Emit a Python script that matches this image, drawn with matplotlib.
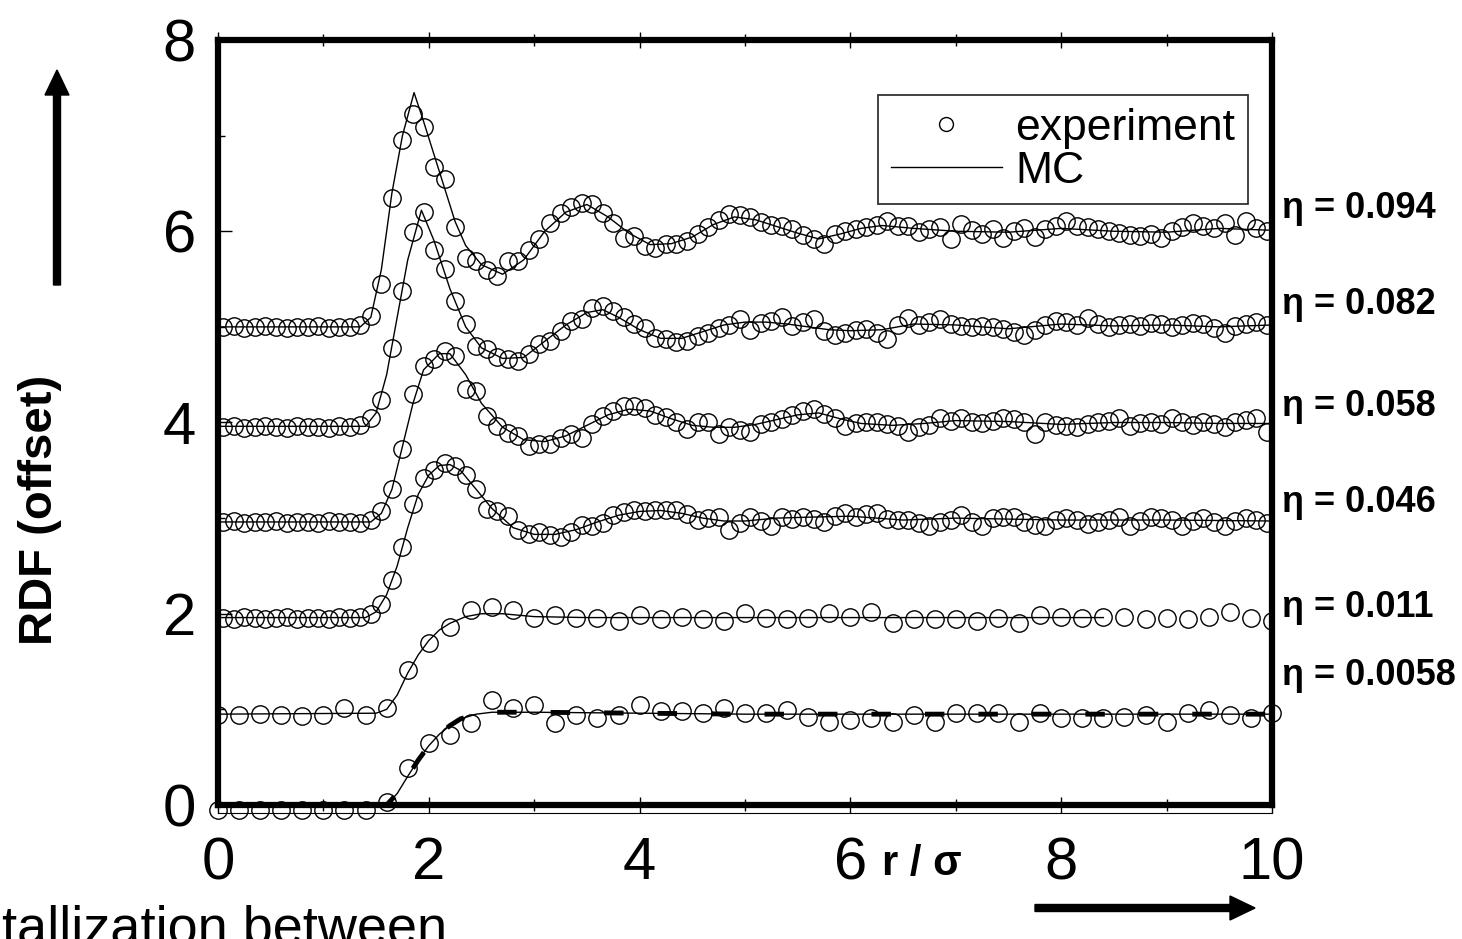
import numpy as np
import matplotlib
matplotlib.use("Agg")
import matplotlib.pyplot as plt
from matplotlib.patches import FancyArrow
from matplotlib.ticker import MultipleLocator
import matplotlib.transforms as mtransforms

plt.rcParams['font.family'] = ['Liberation Sans', 'DejaVu Sans']

# experiment: dense sampling (step 0.1) for the four upper curves
r_dense = np.round(np.arange(0.05, 10.0, 0.1), 2)
# experiment: sparse sampling (step 0.2) for the two lowest curves
r_sparse = np.round(np.arange(0.0, 10.01, 0.2), 2)

exp_094 = [5.00, 5.01, 4.99, 5.00, 5.01, 5.00, 4.99, 5.00, 5.00, 5.01, 4.99, 5.00, 5.00, 5.02,
           5.11, 5.45, 6.35, 6.95, 7.23, 7.09, 6.67, 6.55, 6.04, 5.72,
           5.69, 5.59, 5.53, 5.69, 5.69, 5.80, 5.92, 6.09, 6.19, 6.25,
           6.30, 6.29, 6.19, 6.09, 5.93, 5.95, 5.85, 5.82, 5.87, 5.87,
           5.90, 5.97, 6.04, 6.12, 6.18, 6.17, 6.15, 6.10, 6.07, 6.05,
           6.02, 5.96, 5.92, 5.87, 5.97, 6.00, 6.02, 6.04, 6.07, 6.11,
           6.05, 6.06, 5.99, 6.02, 6.04, 5.92, 6.08, 6.01, 5.97, 6.02,
           5.93, 6.00, 6.03, 5.94, 6.02, 6.06, 6.11, 6.06, 6.04, 6.02,
           6.00, 5.98, 5.96, 5.95, 5.97, 5.93, 6.00, 6.04, 6.09, 6.05,
           6.03, 6.09, 5.96, 6.11, 6.03, 6.00]
exp_082 = [3.95, 3.96, 3.94, 3.95, 3.96, 3.95, 3.94, 3.96, 3.95, 3.95, 3.94, 3.96, 3.95, 3.97,
           4.05, 4.24, 4.78, 5.38, 5.99, 6.20, 5.80, 5.61, 5.27, 5.03,
           4.80, 4.77, 4.68, 4.66, 4.64, 4.72, 4.82, 4.85, 4.96, 5.06,
           5.08, 5.20, 5.22, 5.17, 5.10, 5.03, 4.99, 4.88, 4.87, 4.84,
           4.85, 4.90, 4.94, 4.99, 5.02, 5.08, 4.97, 5.04, 5.06, 5.10,
           5.01, 5.05, 5.08, 4.96, 4.91, 4.94, 4.97, 4.98, 4.94, 4.87,
           5.02, 5.09, 5.02, 5.05, 5.08, 5.03, 5.01, 5.00, 5.01, 5.00,
           4.98, 4.95, 4.91, 4.97, 5.02, 5.06, 5.05, 5.02, 5.09, 5.03,
           5.00, 5.02, 5.03, 5.01, 5.04, 5.03, 5.00, 5.02, 5.04, 5.03,
           4.99, 4.94, 5.01, 5.03, 5.05, 5.02]
exp_058 = [2.96, 2.97, 2.95, 2.96, 2.96, 2.97, 2.95, 2.96, 2.96, 2.95, 2.97, 2.96, 2.96, 2.95, 2.98,
           3.07, 3.30, 3.72, 4.30, 4.59, 4.66, 4.75, 4.70, 4.35,
           4.33, 4.07, 3.96, 3.89, 3.86, 3.75, 3.78, 3.78, 3.84, 3.88,
           3.84, 3.98, 4.07, 4.12, 4.17, 4.17, 4.15, 4.08, 4.06, 4.00,
           3.93, 4.01, 4.01, 3.88, 3.95, 3.92, 3.90, 3.98, 4.01, 4.04,
           4.08, 4.12, 4.14, 4.09, 4.05, 3.96, 3.99, 4.00, 4.01, 3.98,
           3.96, 3.90, 3.95, 3.97, 4.05, 4.02, 4.05, 4.00, 3.99, 4.02,
           4.05, 4.04, 4.00, 3.88, 4.01, 3.97, 3.96, 3.95, 3.98, 4.00,
           4.02, 4.05, 3.96, 3.99, 4.01, 3.98, 4.05, 4.00, 3.97, 4.00,
           3.98, 3.95, 4.01, 4.03, 4.05, 3.90]
exp_046 = [1.96, 1.95, 1.97, 1.96, 1.95, 1.96, 1.97, 1.95, 1.96, 1.96, 1.95, 1.97, 1.96, 1.97,
           2.00, 2.10, 2.35, 2.70, 3.15, 3.42, 3.50, 3.58, 3.55, 3.45,
           3.30, 3.10, 3.07, 3.02, 2.88, 2.83, 2.86, 2.82, 2.80, 2.86,
           2.93, 2.92, 2.95, 3.03, 3.06, 3.08, 3.07, 3.08, 3.09, 3.08,
           3.04, 2.98, 3.00, 3.01, 2.88, 2.95, 3.01, 2.97, 2.92, 3.01,
           2.99, 3.01, 2.99, 2.96, 3.02, 3.05, 3.01, 3.04, 3.05, 2.99,
           2.98, 2.98, 2.95, 2.92, 2.96, 2.98, 3.03, 2.96, 2.92, 3.00,
           3.01, 3.01, 2.96, 2.93, 2.92, 2.98, 3.00, 2.98, 2.94, 2.96,
           2.98, 3.01, 2.92, 2.97, 3.01, 3.00, 2.98, 2.92, 2.97, 3.00,
           2.96, 2.92, 2.97, 3.00, 2.98, 2.95]
exp_011 = [0.94, 0.94, 0.95, 0.94, 0.93, 0.94, 1.01, 0.94, 1.01, 1.41,
           1.69, 1.86, 2.04, 2.07, 2.04, 1.96, 1.99, 1.96, 1.96, 1.92,
           1.99, 1.94, 1.97, 1.94, 1.92, 2.01, 1.96, 1.94, 1.96, 2.01,
           1.97, 2.02, 1.90, 1.94, 1.94, 1.94, 1.92, 1.96, 1.90, 1.99,
           1.97, 1.96, 1.97, 1.97, 1.94, 1.96, 1.94, 1.97, 2.02, 1.96,
           1.92]
exp_0058 = [-0.05, -0.05, -0.05, -0.05, -0.05, -0.05, -0.05, -0.05, 0.03, 0.39,
            0.65, 0.73, 0.86, 1.10, 1.01, 1.05, 0.86, 0.94, 0.91, 0.94,
            1.05, 0.98, 0.98, 0.96, 1.01, 0.96, 0.96, 0.99, 0.92, 0.87,
            0.89, 0.91, 0.87, 0.94, 0.87, 0.96, 0.96, 0.96, 0.87, 0.96,
            0.91, 0.91, 0.91, 0.92, 0.94, 0.87, 0.96, 0.99, 0.94, 0.91,
            0.96]

# MC curves
mc_r_094 = [0, 1.35, 1.45, 1.55, 1.65, 1.75, 1.86, 1.95, 2.05, 2.15, 2.25, 2.35, 2.5, 2.7, 2.9,
            3.1, 3.3, 3.5, 3.7, 3.9, 4.1, 4.3, 4.5, 4.7, 4.9, 5.1, 5.3, 5.5, 5.7, 5.9,
            6.1, 6.3, 6.6, 7.0, 7.5, 8.0, 8.5, 9.0, 9.5, 10]
mc_094 = [5.0, 5.0, 5.1, 5.6, 6.4, 7.0, 7.45, 7.15, 6.8, 6.45, 6.1, 5.85, 5.65, 5.55, 5.7,
          6.0, 6.2, 6.28, 6.15, 5.98, 5.86, 5.87, 5.94, 6.07, 6.15, 6.12, 6.05, 5.98, 5.92, 5.97,
          6.03, 6.06, 6.03, 6.0, 5.99, 6.03, 6.0, 5.99, 6.03, 6.01]
mc_r_082 = [0, 1.4, 1.5, 1.6, 1.7, 1.8, 1.93, 2.05, 2.2, 2.35, 2.5, 2.7, 2.9, 3.1, 3.3,
            3.5, 3.65, 3.8, 4.0, 4.2, 4.4, 4.6, 4.8, 5.0, 5.2, 5.4, 5.6, 5.8, 6.0, 6.3,
            6.6, 7.0, 7.5, 8.0, 8.5, 9.0, 9.5, 10]
mc_082 = [3.96, 3.96, 4.1, 4.5, 5.1, 5.7, 6.22, 5.9, 5.4, 5.0, 4.78, 4.67, 4.68, 4.85, 5.02,
          5.15, 5.18, 5.1, 4.97, 4.88, 4.88, 4.95, 5.02, 5.05, 5.05, 5.03, 5.0, 4.97, 4.96, 4.97,
          5.03, 5.02, 4.98, 5.03, 5.01, 5.02, 5.0, 5.02]
mc_r_058 = [0, 1.45, 1.55, 1.65, 1.75, 1.85, 1.95, 2.1, 2.2, 2.35, 2.5, 2.7, 2.9, 3.1, 3.3,
            3.5, 3.7, 3.9, 4.1, 4.3, 4.5, 4.7, 4.9, 5.1, 5.3, 5.5, 5.7, 5.9, 6.1, 6.4,
            6.7, 7.0, 7.5, 8.0, 8.5, 9.0, 9.5, 10]
mc_058 = [2.96, 2.96, 3.05, 3.3, 3.75, 4.2, 4.55, 4.72, 4.72, 4.5, 4.2, 3.95, 3.82, 3.8, 3.86,
          3.97, 4.08, 4.14, 4.12, 4.04, 3.97, 3.95, 3.95, 3.98, 4.03, 4.08, 4.1, 4.04, 3.99, 3.97,
          3.99, 4.02, 4.01, 3.98, 4.0, 4.0, 3.99, 3.99]
mc_r_046 = [0, 1.4, 1.5, 1.6, 1.7, 1.8, 1.9, 2.0, 2.1, 2.2, 2.3, 2.45, 2.6, 2.8, 3.0,
            3.2, 3.4, 3.6, 3.8, 4.0, 4.2, 4.4, 4.6, 4.8, 5.0, 5.3, 5.6, 6.0, 6.5, 7.0,
            7.5, 8.0, 9.0, 10]
mc_046 = [1.96, 1.96, 2.02, 2.2, 2.5, 2.9, 3.25, 3.45, 3.55, 3.56, 3.5, 3.3, 3.1, 2.9, 2.83,
          2.83, 2.88, 2.96, 3.03, 3.07, 3.08, 3.05, 3.0, 2.97, 2.97, 3.0, 3.01, 3.02, 2.98, 3.0,
          2.99, 2.98, 2.98, 2.97]
mc_r_011 = [0, 1.5, 1.6, 1.7, 1.8, 1.9, 2.0, 2.1, 2.2, 2.35, 2.5, 2.7, 3.0, 3.5, 4.0,
            5.0, 6.0, 7.0, 8.0, 8.4]
mc_011 = [0.95, 0.96, 1.0, 1.15, 1.38, 1.57, 1.72, 1.83, 1.9, 1.97, 2.0, 2.0, 1.97, 1.96, 1.96,
          1.96, 1.96, 1.96, 1.96, 1.96]
mc_r_0058 = [0, 1.6, 1.7, 1.8, 1.9, 2.0, 2.1, 2.2, 2.3, 2.45, 2.6, 3.0, 4.0, 5.0, 6.0,
             7.0, 8.0, 9.0, 10]
mc_0058 = [0.0, 0.0, 0.12, 0.3, 0.47, 0.62, 0.74, 0.83, 0.9, 0.95, 0.97, 0.97, 0.96, 0.95, 0.95,
           0.95, 0.95, 0.95, 0.95]

eta_labels = ['η = 0.094', 'η = 0.082', 'η = 0.058', 'η = 0.046', 'η = 0.011', 'η = 0.0058']
eta_label_y = [6.24, 5.23, 4.17, 3.16, 2.07, 1.35]

W, H = 1462, 939
fig = plt.figure(figsize=(W / 100, H / 100), dpi=100)
ax = fig.add_axes([218 / W, 1 - 805 / H, (1272 - 218) / W, (805 - 40) / H])

mk = dict(marker='o', ms=12.5, mfc='none', mec='k', mew=1.0, ls='none')
ln = dict(color='k', lw=1.0)

ax.plot(r_dense, exp_094, label='experiment', **mk)
ax.plot(r_dense, exp_082, **mk)
ax.plot(r_dense, exp_058, **mk)
ax.plot(r_dense, exp_046, **mk)
ax.plot(r_sparse, exp_011, **mk)
ax.plot(r_sparse, exp_0058, clip_on=False, **mk)

ax.plot(mc_r_094, mc_094, label='MC', **ln)
ax.plot(mc_r_082, mc_082, **ln)
ax.plot(mc_r_058, mc_058, **ln)
ax.plot(mc_r_046, mc_046, **ln)
ax.plot(mc_r_011, mc_011, **ln)
ax.plot(mc_r_0058, mc_0058, **ln)
ax.plot(mc_r_0058, mc_0058, color='k', lw=3.5, dashes=(4, 7))

ax.set_xlim(0, 10)
ax.set_ylim(0, 8)
ax.xaxis.set_major_locator(MultipleLocator(2))
ax.xaxis.set_minor_locator(MultipleLocator(1))
ax.yaxis.set_major_locator(MultipleLocator(2))
ax.yaxis.set_minor_locator(MultipleLocator(1))

for s in ax.spines.values():
    s.set_linewidth(4.5)
ax.tick_params(axis='x', which='major', direction='inout', length=11, width=1, top=True,
               labelsize=43, pad=17)
ax.tick_params(axis='x', which='minor', direction='inout', length=8, width=1, top=True)
ax.tick_params(axis='y', which='major', direction='in', length=10, width=1, right=False,
               labelsize=43, pad=16)
ax.tick_params(axis='y', which='minor', direction='in', length=5, width=1, right=False)
for lab in ax.get_xticklabels() + ax.get_yticklabels():
    lab.set_fontfamily(['Liberation Sans Narrow', 'Liberation Sans'])

# second thin base line just below the frame
ax.axhline(-0.08, color='k', lw=0.8, clip_on=False)

leg = ax.legend(loc='upper right', bbox_to_anchor=(0.977, 0.928), borderaxespad=0,
                fontsize=32, frameon=True, fancybox=False, edgecolor='k',
                handlelength=2.5, handletextpad=0.3, borderpad=0.28, labelspacing=0.05,
                markerscale=0.8)
leg.get_frame().set_linewidth(1.3)

trans = mtransforms.blended_transform_factory(ax.transAxes, ax.transData)
for lab, yy in zip(eta_labels, eta_label_y):
    ax.text(1.0095, yy, lab, transform=trans, fontsize=26, fontweight='bold',
            ha='left', va='center', clip_on=False)

fig.text(40 / W, 1 - 510 / H, 'RDF (offset)', rotation=90, fontsize=34,
         fontweight='bold', ha='center', va='center')
fig.text(922 / W, 1 - 864 / H, 'r / σ', fontsize=30, fontweight='bold',
         ha='center', va='center')
fig.text(2 / W, -4 / H, 'tallization between', fontsize=39, ha='left', va='baseline')

# arrows (figure inches)
fig.add_artist(FancyArrow(0.57, (H - 285) / 100, 0, 2.15 - 0.25, width=0.07,
                          head_width=0.24, head_length=0.25, length_includes_head=False,
                          color='k', transform=fig.dpi_scale_trans))
fig.add_artist(FancyArrow(10.35, (H - 908) / 100, 2.20, 0, width=0.07,
                          head_width=0.24, head_length=0.25, length_includes_head=True,
                          color='k', transform=fig.dpi_scale_trans))

fig.savefig('out.png', dpi=100)
